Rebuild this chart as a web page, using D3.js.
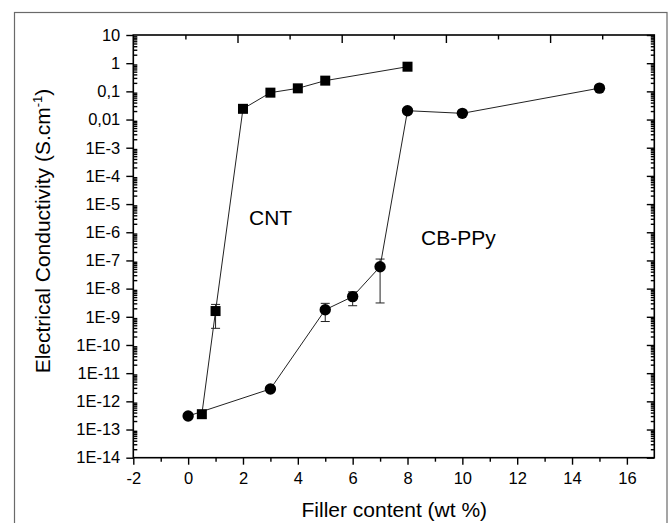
<!DOCTYPE html>
<html><head><meta charset="utf-8">
<script src="https://cdn.jsdelivr.net/npm/d3@7"></script>
<style>
html,body{margin:0;padding:0;background:#fff;}
svg{display:block;font-family:"Liberation Sans",Arial,sans-serif;}
</style></head>
<body>
<svg id="chart" width="669" height="523"></svg>
<script>
// ---- data ----
const cntX = [0.5, 1, 2, 3, 4, 5, 8];
const cntY = [3.5e-13, 1.6e-9, 0.024, 0.09, 0.128, 0.24, 0.75];
const cntErrX = [1];
const cntErrLow = [3.9e-10];
const cntErrHigh = [2.75e-9];

const cbX = [0, 3, 5, 6, 7, 8, 10, 15];
const cbY = [3e-13, 2.75e-12, 1.78e-9, 5.2e-9, 6e-8, 0.0206, 0.0166, 0.13];
const cbErrX = [5, 6, 7];
const cbErrLow = [6.8e-10, 2.47e-9, 3.1e-9];
const cbErrHigh = [3e-9, 7.7e-9, 1.12e-7];

const xTicks = [-2, 0, 2, 4, 6, 8, 10, 12, 14, 16];
const xTickLabels = ["-2", "0", "2", "4", "6", "8", "10", "12", "14", "16"];
const xMinorTicks = [-1, 1, 3, 5, 7, 9, 11, 13, 15];
const yTickValues = [10, 1, 0.1, 0.01, 1e-3, 1e-4, 1e-5, 1e-6, 1e-7, 1e-8, 1e-9, 1e-10, 1e-11, 1e-12, 1e-13, 1e-14];
const yTickLabels = ["10", "1", "0,1", "0,01", "1E-3", "1E-4", "1E-5", "1E-6", "1E-7", "1E-8", "1E-9", "1E-10", "1E-11", "1E-12", "1E-13", "1E-14"];
const seriesLabels = ["CNT", "CB-PPy"];
const xTitle = "Filler content (wt %)";
const yTitle = "Electrical Conductivity (S.cm";

// ---- layout ----
const L = 133.3, R = 654.3, T = 35, B = 457.7;
const svg = d3.select("#chart");

// outer frame
svg.append("rect").attr("x", 14.5).attr("y", 12.5).attr("width", 652.5).attr("height", 600)
  .attr("fill", "none").attr("stroke", "#6a6a6a").attr("stroke-width", 1.2);

const x = d3.scaleLinear().domain([-2, 17]).range([L, R]);
const y = d3.scaleLog().domain([1e-14, 10]).range([B, T]);
const xTop = d3.scaleLinear().domain([0, 10]).range([L, R]);

const minorY = [];
for (let k = -14; k < 1; k++) for (let m = 2; m <= 9; m++) minorY.push(m * Math.pow(10, k));

function styleAxis(g) {
  g.select(".domain").remove();
  g.selectAll(".tick line").attr("stroke", "#000").attr("stroke-width", 1.4);
  g.selectAll("text").attr("fill", "#000").style("font-size", "16.5px")
    .style("font-family", "'Liberation Sans',Arial,sans-serif");
}

// left axis majors (outward) with labels
svg.append("g").attr("transform", `translate(${L},0)`)
  .call(d3.axisLeft(y).tickValues(yTickValues).tickSize(7).tickPadding(6)
    .tickFormat((d, i) => yTickLabels[i]))
  .call(styleAxis);
// left minors inward
svg.append("g").attr("transform", `translate(${L},0)`)
  .call(d3.axisRight(y).tickValues(minorY).tickSize(4).tickFormat(""))
  .call(styleAxis);
// right axis
svg.append("g").attr("transform", `translate(${R},0)`)
  .call(d3.axisLeft(y).tickValues(yTickValues).tickSize(7.5).tickFormat(""))
  .call(styleAxis);
svg.append("g").attr("transform", `translate(${R},0)`)
  .call(d3.axisLeft(y).tickValues(minorY).tickSize(3.5).tickFormat(""))
  .call(styleAxis);
// bottom axis
svg.append("g").attr("transform", `translate(0,${B})`)
  .call(d3.axisBottom(x).tickValues(xTicks).tickSize(7).tickPadding(8)
    .tickFormat((d, i) => xTickLabels[i]))
  .call(styleAxis);
svg.append("g").attr("transform", `translate(0,${B})`)
  .call(d3.axisBottom(x).tickValues(xMinorTicks).tickSize(4).tickFormat(""))
  .call(styleAxis);
// top axis (inward)
svg.append("g").attr("transform", `translate(0,${T})`)
  .call(d3.axisBottom(xTop).tickValues([2, 4, 6, 8]).tickSize(8).tickFormat(""))
  .call(styleAxis);
svg.append("g").attr("transform", `translate(0,${T})`)
  .call(d3.axisBottom(xTop).tickValues([1, 3, 5, 7, 9]).tickSize(4.5).tickFormat(""))
  .call(styleAxis);

// plot box
svg.append("rect").attr("x", L).attr("y", T).attr("width", R - L).attr("height", B - T)
  .attr("fill", "none").attr("stroke", "#000").attr("stroke-width", 1.6);

// lines
const line = d3.line().x(d => x(d[0])).y(d => y(d[1]));
const cnt = cntX.map((v, i) => [v, cntY[i]]);
const cb = cbX.map((v, i) => [v, cbY[i]]);
svg.append("path").datum(cnt).attr("d", line).attr("fill", "none").attr("stroke", "#222").attr("stroke-width", 1);
svg.append("path").datum(cb).attr("d", line).attr("fill", "none").attr("stroke", "#222").attr("stroke-width", 1);

// error bars
function errBars(xs, lo, hi) {
  const g = svg.append("g").attr("stroke", "#222").attr("stroke-width", 1);
  xs.forEach((xv, i) => {
    g.append("line").attr("x1", x(xv)).attr("x2", x(xv)).attr("y1", y(lo[i])).attr("y2", y(hi[i]));
    [lo[i], hi[i]].forEach(v => g.append("line").attr("x1", x(xv) - 4.5).attr("x2", x(xv) + 4.5)
      .attr("y1", y(v)).attr("y2", y(v)));
  });
}
errBars(cntErrX, cntErrLow, cntErrHigh);
errBars(cbErrX, cbErrLow, cbErrHigh);

// markers
svg.append("g").selectAll("rect").data(cnt).join("rect")
  .attr("x", d => x(d[0]) - 5).attr("y", d => y(d[1]) - 5).attr("width", 10).attr("height", 10)
  .attr("fill", "#000");
svg.append("g").selectAll("circle").data(cb).join("circle")
  .attr("cx", d => x(d[0])).attr("cy", d => y(d[1])).attr("r", 5.7).attr("fill", "#000");

// series labels
svg.append("text").attr("x", 249).attr("y", 225).text(seriesLabels[0])
  .style("font-size", "21px").attr("fill", "#000");
svg.append("text").attr("x", 421).attr("y", 244.5).text(seriesLabels[1])
  .style("font-size", "21px").attr("fill", "#000");

// axis titles
svg.append("text").attr("x", (L + R) / 2 + 0.5).attr("y", 517).attr("text-anchor", "middle")
  .style("font-size", "21px").attr("fill", "#000").text(xTitle);
const yt = svg.append("text").attr("transform", "translate(50,231) rotate(-90)")
  .attr("text-anchor", "middle").style("font-size", "21px").attr("fill", "#000");
yt.append("tspan").text(yTitle);
yt.append("tspan").attr("dy", -8).style("font-size", "13px").text("-1");
yt.append("tspan").attr("dy", 8).text(")");
</script>
</body></html>
